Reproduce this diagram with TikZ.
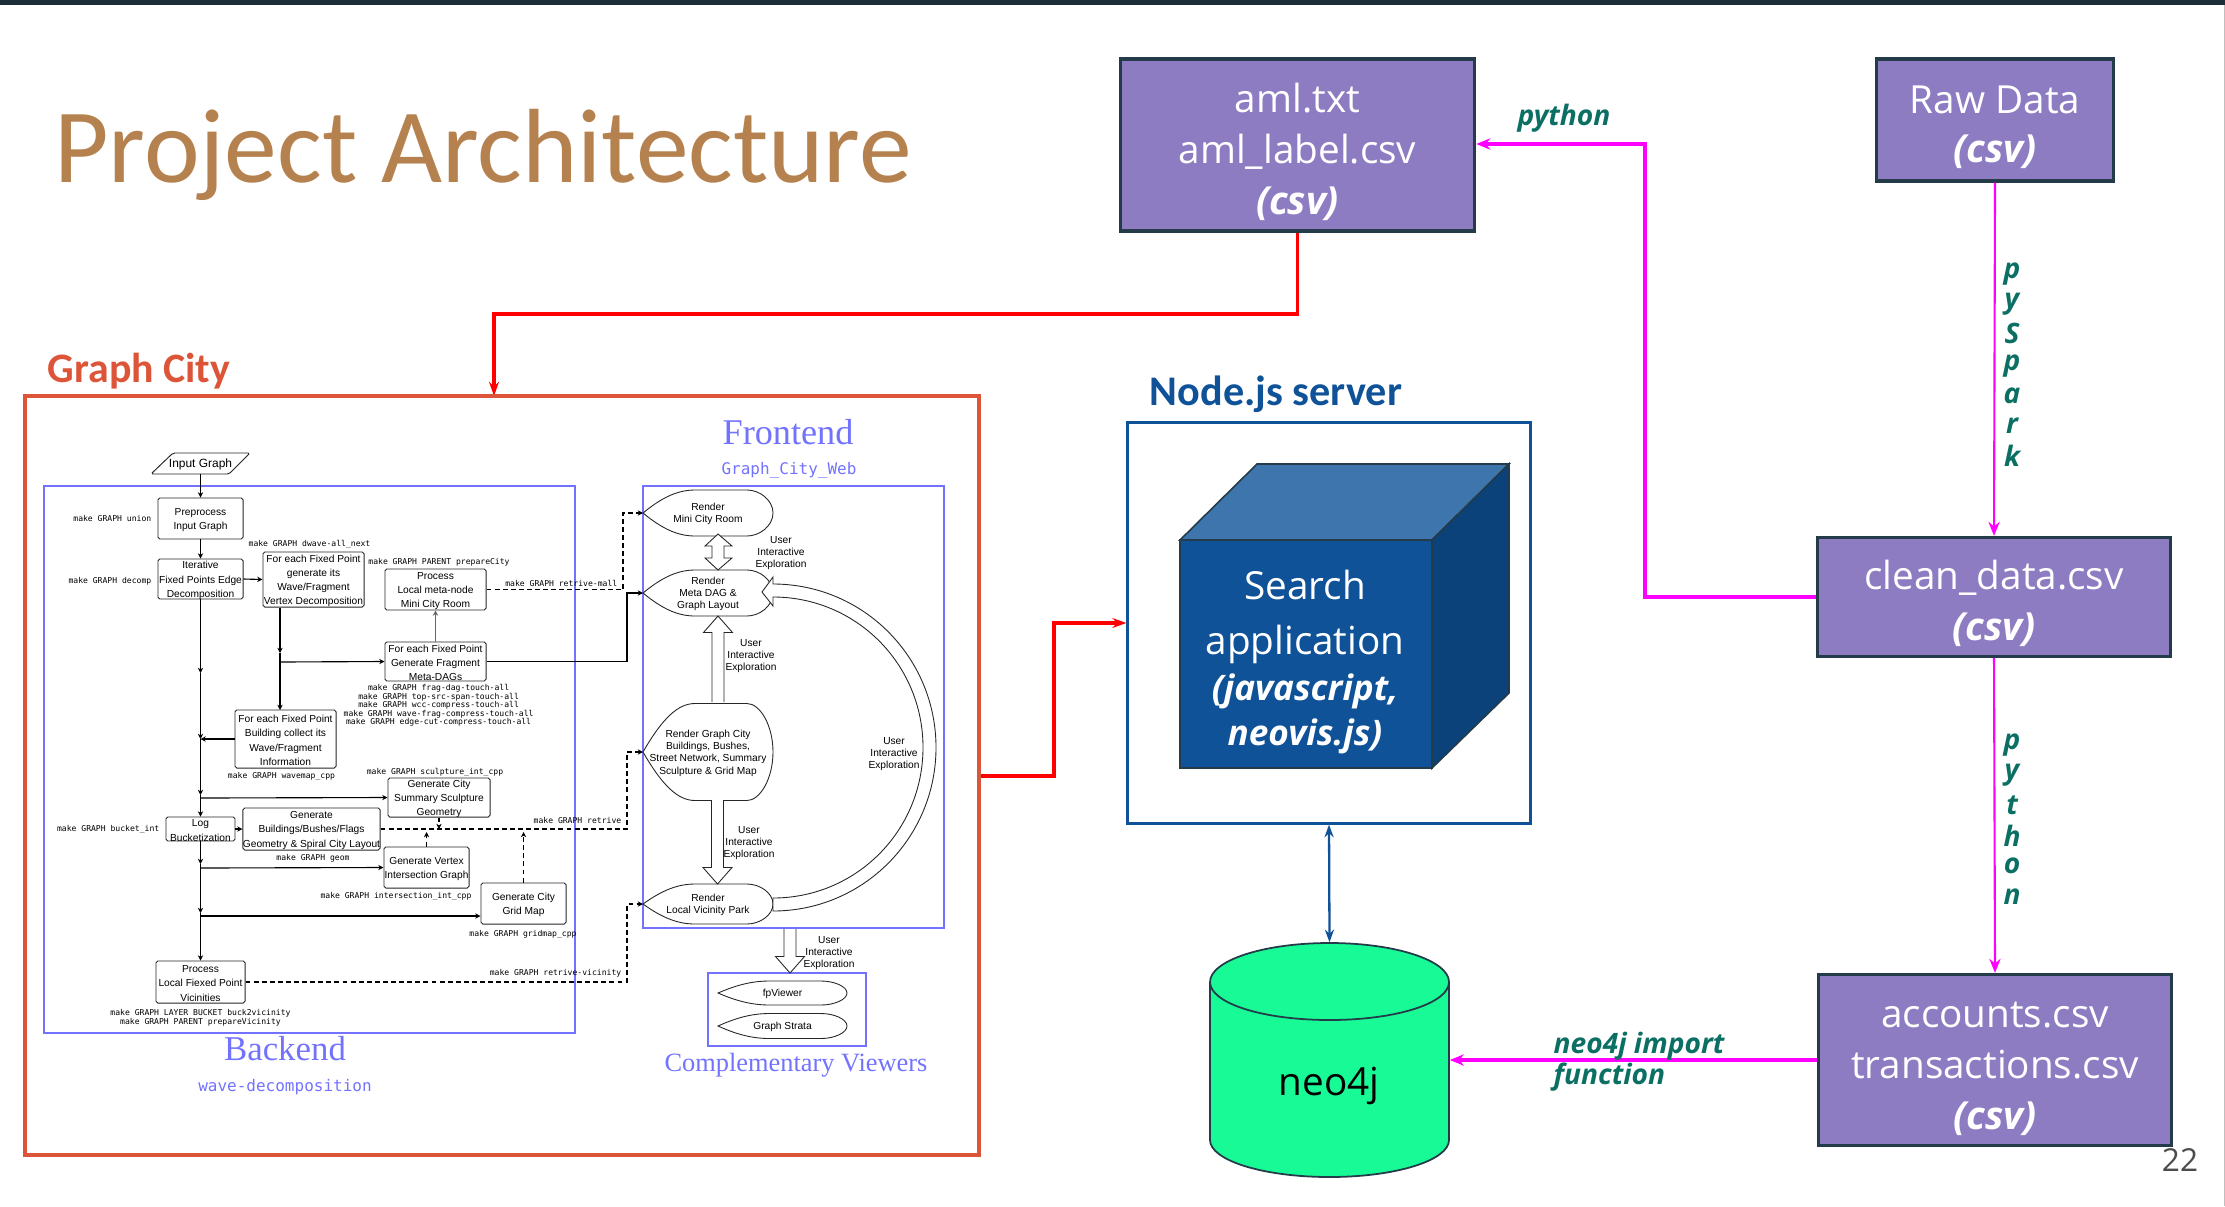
\documentclass[tikz,border=0pt]{standalone}
\usepackage{fontspec}
\usetikzlibrary{arrows.meta}
\setmainfont{Open Sans}
\newfontfamily\ttlfont{Carlito}
\newfontfamily\flowfont{Liberation Sans}
\newfontfamily\capfont{Liberation Serif}
\newfontfamily\mkfont{DejaVu Sans Mono}
\definecolor{barcol}{HTML}{1C2F38}
\definecolor{ttlcol}{HTML}{B5824F}
\definecolor{citycol}{HTML}{DD5539}
\definecolor{bluecol}{HTML}{0F5298}
\definecolor{plumcol}{HTML}{8E7CC3}
\definecolor{edgecol}{HTML}{243B4A}
\definecolor{wavecol}{HTML}{7272FF}
\definecolor{greencol}{HTML}{0B6F63}
\definecolor{neocol}{HTML}{17FA96}
\definecolor{pinkcol}{HTML}{FF00FF}
\tikzset{
  databox/.style={draw=edgecol,line width=.9pt,fill=plumcol,text=white,align=center,inner sep=0pt,
    font=\fontsize{11}{14.5}\selectfont},
  flowbox/.style={draw=black!85,line width=.27pt,rounded corners=.5pt,fill=white,inner sep=0pt},
  flowtext/.style={inner sep=0pt,align=center,yshift=-.4pt,font=\flowfont\fontsize{2.9}{4.05}\selectfont},
  dsptext/.style={inner sep=0pt,align=center,yshift=-.3pt,font=\flowfont\fontsize{2.9}{3.47}\selectfont},
  dshape/.style={draw=black!85,line width=.25pt,fill=white},
  mklabel/.style={inner sep=0pt,align=center,font=\mkfont\fontsize{2.3}{2.45}\selectfont},
  wavebox/.style={draw=wavecol,line width=.7pt},
  wavetitle/.style={inner sep=0pt,text=wavecol,font=\capfont\fontsize{10.3}{12}\selectfont},
  wavecode/.style={inner sep=0pt,text=wavecol,font=\mkfont\fontsize{4.55}{6}\selectfont},
  flowline/.style={draw=black,line width=.32pt,-{Stealth[length=1.5pt,width=1.5pt]}},
  flowdash/.style={flowline,dash pattern=on 1.4pt off .9pt},
  redline/.style={draw=red,line width=1pt,-{Stealth[length=4pt,width=2.8pt]}},
  pinkline/.style={draw=pinkcol,line width=.95pt,-{Stealth[length=4pt,width=3.2pt]}},
  greentext/.style={inner sep=0pt,text=greencol,font=\fontsize{8}{9}\selectfont\bfseries\itshape},
}
\def\dpiece{.. controls (0.15,-0.7) and (0.27,-1) .. (0.4,-1) -- (0.8,-1) .. controls (0.9,-1) and (1,-0.55) .. (1,0) .. controls (1,0.55) and (0.9,1) .. (0.8,1) -- (0.4,1) .. controls (0.27,1) and (0.15,0.7) .. cycle}
\def\lowr{\rule{0pt}{12pt}}
\newcommand{\flownode}[6]{\node[flowbox,minimum width=#4cm,minimum height=#5cm] (#1) at (#2,#3) {};
  \node[flowtext] (#1t) at (#1) {#6};}
\newcommand{\dspnode}[6]{\coordinate (#1) at (#2,#3);
  \draw[dshape,shift={(#2,#3)},xscale=#4,yscale=#5] (0,0) \dpiece;
  \node[dsptext] (#1t) at (#2+#4/2,#3) {#6};}
\newcommand{\fatarr}[3]{\pgfmathsetmacro\headb{#3>#2 ? #3-16.5 : #3+16.5}
  \draw[dshape] (#1-6,#2) -- (#1-6,\headb) -- (#1-14.5,\headb) -- (#1,#3) -- (#1+14.5,\headb) -- (#1+6,\headb) -- (#1+6,#2);}
\def\userexp{User\\Interactive\\Exploration}

\begin{document}
\begin{tikzpicture}[x=0.01cm,y=-0.01cm]
\useasboundingbox (0,0) rectangle (2225,1206);
\fill[barcol] (0,0) rectangle (2225,4.7);
\draw[black!25,line width=.3pt] (2224,5) -- (2224,1206);

\node[inner sep=0pt,text=ttlcol,font=\ttlfont\fontsize{30}{36}\selectfont] (title) at (483,155) {Project Architecture};
\node[inner sep=0pt,text=citycol,font=\ttlfont\fontsize{11.9}{14}\selectfont\bfseries] (citytitle) at (139,371) {Graph City};
\node[inner sep=0pt,text=bluecol,font=\ttlfont\fontsize{12}{14}\selectfont\bfseries] (servertitle) at (1276,394) {Node.js server};

% data boxes
\node[databox,minimum width=3.54cm,minimum height=1.72cm] (aml) at (1297.5,145) {\lowr aml.txt\\aml\_label.csv\\\textbf{\textit{(csv)}}};
\node[databox,minimum width=2.37cm,minimum height=1.22cm] (raw) at (1995,120) {\lowr Raw Data\\[-.8pt]\textbf{\textit{(csv)}}};
\node[databox,minimum width=3.53cm,minimum height=1.19cm] (clean) at (1994,597) {\lowr clean\_data.csv\\\textbf{\textit{(csv)}}};
\node[databox,minimum width=3.53cm,minimum height=1.71cm] (acct) at (1995,1060) {\lowr accounts.csv\\transactions.csv\\\textbf{\textit{(csv)}}};

% server
\node[draw=bluecol,line width=.85pt,minimum width=4.02cm,minimum height=4.00cm] (server) at (1329,623) {};
\draw[draw=edgecol,line width=.45pt,fill=bluecol!80!white] (1180,540) -- (1257,464) -- (1509,464) -- (1432,540) -- cycle;
\draw[draw=edgecol,line width=.45pt,fill=bluecol!80!black] (1432,540) -- (1509,464) -- (1509,693) -- (1432,768) -- cycle;
\node[draw=edgecol,line width=.45pt,fill=bluecol,minimum width=2.52cm,minimum height=2.28cm] (cube) at (1306,654) {};
\node[inner sep=0pt,align=center,text=white,font=\fontsize{11}{15.6}\selectfont] (apptext) at (1305,617) {Search\\application};
\node[inner sep=0pt,align=center,text=white,font=\fontsize{10}{12.8}\selectfont\bfseries\itshape] (jstext) at (1305,714) {(javascript,\\neovis.js)};

% database
\draw[draw=edgecol,line width=.5pt,fill=neocol] (1210,982) -- (1210,1140) .. controls (1210,1160) and (1262,1177) .. (1329.5,1177) .. controls (1397,1177) and (1449,1160) .. (1449,1140) -- (1449,982) .. controls (1449,961) and (1397,943) .. (1329.5,943) .. controls (1262,943) and (1210,961) .. (1210,982) -- cycle;
\draw[draw=edgecol,line width=.5pt] (1210,982) .. controls (1210,1003) and (1262,1020) .. (1329.5,1020) .. controls (1397,1020) and (1449,1003) .. (1449,982);
\node[minimum width=2.39cm,minimum height=2.34cm,inner sep=0pt] (neodb) at (1329.5,1060) {};
\node[inner sep=0pt,font=\fontsize{11}{13}\selectfont] (neotext) at (1329,1086) {neo4j};

% outer connectors
\coordinate (redA) at (494,314);
\coordinate (redB) at (1054,623);
\draw[redline] (aml.south) |- (redA) -- (494,396);
\draw[redline] (979,776) -| (redB) -- (server.west |- redB);
\coordinate (pinkA) at (1645,144);
\draw[pinkline] (clean.west) -| (pinkA) -- (aml.east |- pinkA);
\draw[pinkline,line width=.6pt] (raw.south) -- (clean.north);
\draw[pinkline,line width=.6pt] (clean.south) -- (acct.north);
\draw[pinkline] (acct.west) -- (neodb.east |- acct.west);
\draw[draw=bluecol,line width=.65pt,{Stealth[length=3.6pt,width=2.6pt]}-{Stealth[length=3.6pt,width=2.6pt]}] (server.south) -- (neodb.north);

\node[greentext] (pytext) at (1564,118) {python};
\node[greentext,anchor=west] (imptext) at (1553,1046) {neo4j import};
\node[greentext,anchor=west] (fntext) at (1553,1077) {function};
\foreach \ltr/\ypos [count=\i] in {p/274,y/304,S/333,p/366,a/396,r/426,k/456}
  \node[greentext] (sp\i) at (2012,\ypos) {\ltr};
\foreach \ltr/\ypos [count=\i] in {p/745,y/775,t/805,h/836,o/866,n/897}
  \node[greentext] (py\i) at (2012,\ypos) {\ltr};
\node[inner sep=0pt,text=black!70,font=\fontsize{9}{11}\selectfont] (pagenum) at (2180,1160) {22};

% graph city frame
\draw[draw=citycol,line width=.95pt] (25,396) rectangle (979,1155);
\draw[wavebox] (44,486) rectangle (575,1033);
\draw[wavebox] (643,486) rectangle (944,928);
\draw[wavebox] (708,973) rectangle (866,1046);
\node[wavetitle,font=\capfont\fontsize{9.9}{12}\selectfont] (backtitle) at (285,1049) {Backend};
\node[wavecode] (backcode) at (285,1087) {wave-decomposition};
\node[wavetitle] (fronttitle) at (788,432) {Frontend};
\node[wavecode] (frontcode) at (789,470) {Graph\_City\_Web};
\node[wavetitle,font=\capfont\fontsize{7.5}{9}\selectfont] (viewtitle) at (796,1065) {Complementary Viewers};

% backend flow
\draw[flowbox] (151,474) -- (173,453) -- (250,453) -- (229,474) -- cycle;
\node[inner sep=0pt,yshift=-.3pt,font=\flowfont\fontsize{3.4}{4}\selectfont] (input) at (200.5,463.5) {Input Graph};
\coordinate (inputb) at (200.5,474);
\flownode{prep}{200.5}{518.5}{.85}{.41}{Preprocess\\Input Graph}
\flownode{iter}{200.5}{579}{.85}{.40}{Iterative\\Fixed Points Edge\\Decomposition}
\flownode{wave}{313.5}{579.5}{1.01}{.55}{For each Fixed Point\\generate its\\Wave/Fragment\\Vertex Decomposition}
\flownode{room}{435.5}{589.5}{1.01}{.41}{Process\\Local meta-node\\Mini City Room}
\flownode{frag}{435.5}{661.5}{1.01}{.39}{For each Fixed Point\\Generate Fragment\\Meta-DAGs}
\flownode{bldg}{285.5}{739}{1.01}{.58}{For each Fixed Point\\Building collect its\\Wave/Fragment\\Information}
\flownode{sumr}{439}{797.5}{1.02}{.39}{Generate City\\Summary Sculpture\\Geometry}
\flownode{bush}{311.5}{829}{1.37}{.42}{Generate\\Buildings/Bushes/Flags\\Geometry \& Spiral City Layout}
\flownode{logb}{200.5}{829}{.69}{.24}{Log\\Bucketization}
\flownode{vrtx}{426.5}{867.5}{.85}{.41}{Generate Vertex\\Intersection Graph}
\flownode{grid}{523.5}{903.5}{.85}{.41}{Generate City\\Grid Map}
\flownode{lclf}{200.5}{982}{.89}{.42}{Process\\Local Fiexed Point\\Vicinities}

\draw[flowline] (inputb) -- (prep.north);
\draw[flowline] (prep.south) -- (iter.north);
\draw[flowline] (iter.east) -- (wave.west);
\coordinate (trA) at (200.5,673);
\coordinate (trB) at (200.5,739);
\coordinate (trC) at (200.5,795);
\coordinate (trD) at (200.5,864);
\coordinate (trE) at (200.5,913);
\coordinate (trF) at (200.5,916);
\draw[flowline] (iter.south) -- (trA);
\draw[flowline] (trA) -- (trB);
\draw[flowline] (trB) -- (trC);
\draw[flowline] (trC) -- (logb.north);
\draw[flowline] (logb.south) -- (trD);
\draw[flowline] (trD) -- (trE);
\draw[flowline] (trE) -- (lclf.north);
\draw[flowline] (bldg.west) -- (trB);
\coordinate (wvA) at (280,653);
\draw[flowline] (wave.south -| wvA) -- (wvA);
\draw[flowline] (wvA) -- (280,710);
\draw[flowline] (280,662) -- (frag.west);
\draw[flowline,draw=black!60] (frag.north) -- (room.south);
\draw[flowline] (200.5,798) -- (sumr.west);
\draw[flowline] (logb.east) -- (bush.west);
\draw[flowline] (200.5,868) -- (vrtx.west);
\draw[flowline] (trF) -- (trF -| grid.west);

% frontend shapes
\dspnode{mini}{643}{513}{130}{23}{Render\\Mini City Room}
\dspnode{dag}{643}{593}{130}{23}{Render\\Meta DAG \&\\Graph Layout}
\dspnode{gcity}{643}{752}{130}{48.5}{Render Graph City\\Buildings, Bushes,\\Street Network, Summary\\Sculpture \& Grid Map}
\dspnode{park}{643}{904}{130}{20}{Render\\Local Vicinity Park}
\dspnode{fpv}{718}{993}{129}{12}{fpViewer}
\dspnode{strata}{718}{1026}{129}{12.5}{Graph Strata}

\draw[dshape] (712,552) -- (712,546) -- (705,546) -- (718,534) -- (732,546) -- (724,546) -- (724,558) -- (732,558) -- (718,570) -- (705,558) -- (712,558) -- cycle;
\fatarr{718}{702}{616}
\fatarr{717.5}{800}{884}
\fatarr{790}{929}{973}
% big curved arrow
\draw[dshape] (773,898) .. controls (856,898) and (923,831) .. (923,747.5) .. controls (923,664) and (856,597) .. (773,597) -- (773,606) -- (762,592) -- (773,577) -- (773,584) .. controls (863,584) and (936,657) .. (936,747.5) .. controls (936,838) and (863,911) .. (773,911) -- cycle;

\node[dsptext] (ue1) at (781,552) {\userexp};
\node[dsptext] (ue2) at (751,655) {\userexp};
\node[dsptext] (ue3) at (894,753) {\userexp};
\node[dsptext] (ue4) at (749,842) {\userexp};
\node[dsptext] (ue5) at (829,952) {\userexp};

% dashed and long links
\coordinate (lkX) at (623,513);
\coordinate (lkY) at (627,593);
\coordinate (lkZ) at (627,752);
\coordinate (lkW) at (627,904);
\draw[flowdash] (room.east) -| (lkX) -- (mini);
\draw[flowline] (frag.east) -| (lkY) -- (dag);
\draw[flowdash] (bush.east) -| (lkZ) -- (gcity);
\draw[flowdash] (lclf.east) -| (lkW) -- (park);
\draw[flowdash] (sumr.south) -- (439,829);
\draw[flowdash] (vrtx.north) -- (426.5,832);
\draw[flowdash] (grid.north) -- (523.5,832);

% make labels
\node[mklabel,anchor=east] (mk1) at (152,518) {make GRAPH union};
\node[mklabel,anchor=east] (mk2) at (152,581) {make GRAPH decomp};
\node[mklabel] (mk3) at (309.5,544) {make GRAPH dwave-all\_next};
\node[mklabel] (mk4) at (439,562) {make GRAPH PARENT prepareCity};
\node[mklabel,anchor=east] (mk5) at (618,583) {make GRAPH retrive-mall};
\node[mklabel] (mk6) at (438.6,705.5) {make GRAPH frag-dag-touch-all\\make GRAPH top-src-span-touch-all\\make GRAPH wcc-compress-touch-all\\make GRAPH wave-frag-compress-touch-all\\make GRAPH edge-cut-compress-touch-all};
\node[mklabel] (mk7) at (281.5,776) {make GRAPH wavemap\_cpp};
\node[mklabel] (mk8) at (435,772) {make GRAPH sculpture\_int\_cpp};
\node[mklabel,anchor=east] (mk9) at (622,820) {make GRAPH retrive};
\node[mklabel,anchor=east] (mk10) at (160,829) {make GRAPH bucket\_int};
\node[mklabel] (mk11) at (313,858) {make GRAPH geom};
\node[mklabel] (mk12) at (396,896) {make GRAPH intersection\_int\_cpp};
\node[mklabel] (mk13) at (523,934) {make GRAPH gridmap\_cpp};
\node[mklabel,anchor=east] (mk14) at (622,973) {make GRAPH retrive-vicinity};
\node[mklabel] (mk15) at (200.5,1018) {make GRAPH LAYER BUCKET buck2vicinity\\make GRAPH PARENT prepareVicinity};
\end{tikzpicture}
\end{document}
